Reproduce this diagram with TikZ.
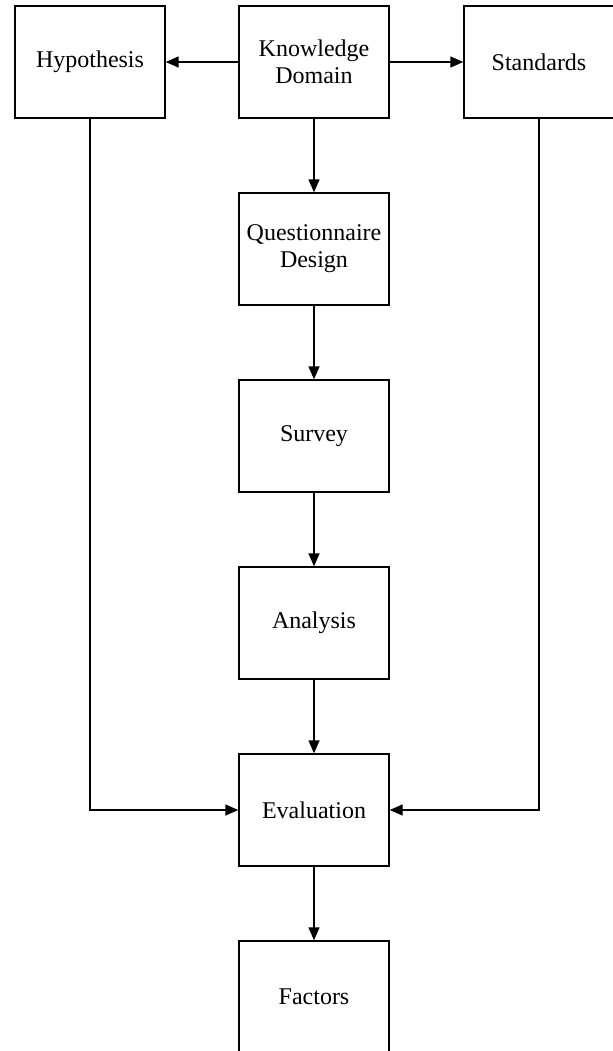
\documentclass[tikz,border=0pt]{standalone}
\usepackage{fontspec}
\setmainfont{Liberation Serif}
\usetikzlibrary{arrows.meta,positioning}

\tikzset{
    stage/.style={draw, line width=0.7pt, minimum width=75pt, minimum height=56pt,
        align=center, inner sep=2pt, font=\fontsize{12}{13.5}\selectfont},
    flow/.style={->, >={Triangle[length=6.5pt,width=5.5pt]}, line width=0.7pt}
}

\begin{document}
\begin{tikzpicture}[x=0.5pt, y=-0.5pt]
    \useasboundingbox (0,0) rectangle (613,1051);

    % Nodes
    \node[stage] (know) at (314,62) {Knowledge\\Domain};
    \node[stage] (hyp) at (90,62) {Hypothesis};
    \node[stage] (std) at (539,62) {Standards};
    \node[stage] (quest) at (314,249) {Questionnaire\\Design};
    \node[stage] (survey) at (314,436) {Survey};
    \node[stage] (analysis) at (314,623) {Analysis};
    \node[stage] (eval) at (314,810) {Evaluation};
    \node[stage] (factors) at (314,997) {Factors};

    % Arrows
    \draw[flow] (know) -- (hyp);
    \draw[flow] (know) -- (std);
    \draw[flow] (know) -- (quest);
    \draw[flow] (quest) -- (survey);
    \draw[flow] (survey) -- (analysis);
    \draw[flow] (analysis) -- (eval);
    \draw[flow] (eval) -- (factors);

    % Side paths into the evaluation
    \draw[flow] (hyp) |- (eval);
    \draw[flow] (std) |- (eval);
\end{tikzpicture}
\end{document}
